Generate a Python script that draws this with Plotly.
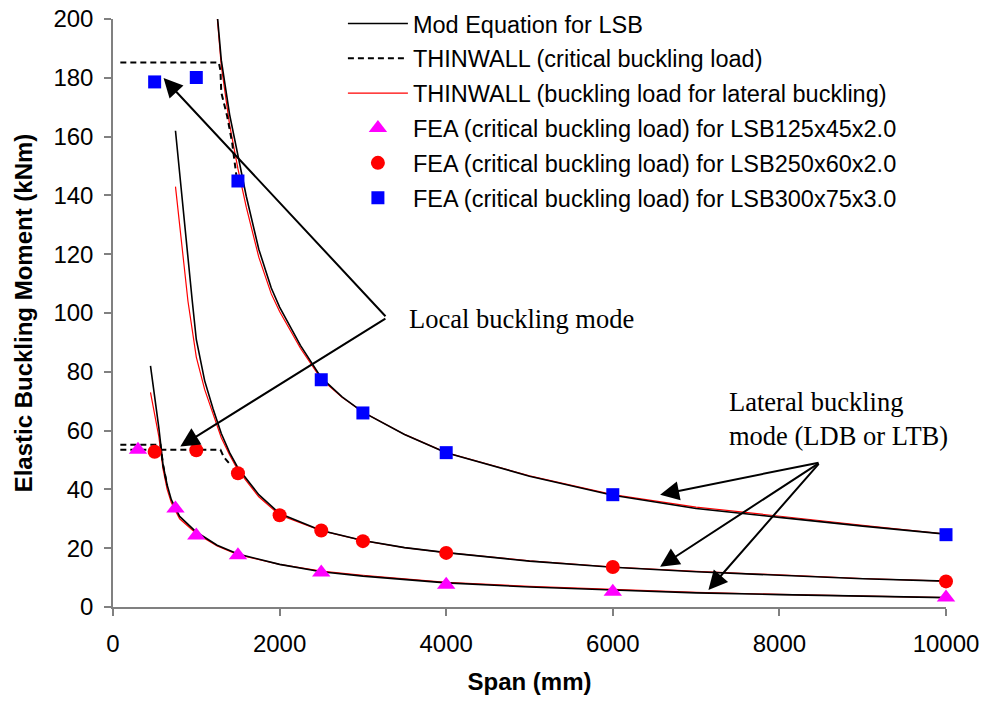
import plotly.graph_objects as go

# ---------------- data ----------------
# Mod Equation for LSB (black solid)
span_mod_125 = [450, 500, 550, 600, 650, 700, 800, 1000, 1250, 1500, 2000, 2500, 3000, 4000, 5000, 6000, 7000, 8000, 9000, 10000]
mod_125 = [82, 72, 61, 48.5, 41.5, 36.5, 30.8, 25.5, 21, 18, 14.5, 12, 10.5, 8.2, 6.8, 5.8, 4.8, 4.2, 3.6, 3.2]

span_mod_250 = [750, 800, 850, 900, 950, 1000, 1100, 1200, 1300, 1400, 1500, 1750, 2000, 2500, 3000, 3500, 4000, 5000, 6000, 7000, 8000, 9000, 10000]
mod_250 = [162, 147, 132, 118, 104.5, 91, 77, 67.5, 59, 52.5, 47.3, 38.2, 31.8, 26, 22.6, 20.2, 18.5, 15.6, 13.5, 12, 10.8, 9.6, 8.8]

span_mod_300 = [1250, 1300, 1400, 1500, 1600, 1750, 1900, 2000, 2250, 2500, 2750, 3000, 3500, 4000, 5000, 6000, 7000, 8000, 9000, 10000]
mod_300 = [202, 186, 167.5, 153.5, 139.7, 121.7, 108.5, 102, 89, 78, 71.5, 66.3, 58.7, 52.5, 44.5, 38, 33.5, 30.5, 27.5, 24.8]

# THINWALL (buckling load for lateral buckling) (red solid)
span_tw_125 = [450, 500, 550, 600, 650, 700, 800, 1000, 1250, 1500, 2000, 2500, 3000, 4000, 5000, 6000, 7000, 8000, 9000, 10000]
tw_125 = [73, 66, 58, 47, 40, 35.5, 30, 25, 20.8, 17.8, 14.5, 12.2, 10.8, 8.4, 7, 6, 5, 4.3, 3.8, 3.2]

span_tw_250 = [750, 800, 850, 900, 950, 1000, 1100, 1200, 1300, 1400, 1500, 1750, 2000, 2500, 3000, 3500, 4000, 5000, 6000, 7000, 8000, 9000, 10000]
tw_250 = [143, 129, 117, 104, 94, 85, 74, 65.5, 57.6, 51.7, 46.5, 37.5, 31.3, 26, 22.6, 20.2, 18.5, 15.7, 13.6, 12.1, 10.9, 9.7, 8.8]

span_tw_300 = [1250, 1300, 1400, 1500, 1600, 1750, 1900, 2000, 2250, 2500, 2750, 3000, 3500, 4000, 5000, 6000, 7000, 8000, 9000, 10000]
tw_300 = [201, 184, 164, 149, 136, 119, 106.5, 100.5, 88, 77.5, 71.3, 66.3, 58.7, 52.5, 44.6, 38.2, 34, 30.8, 27.8, 24.8]

# THINWALL (critical buckling load) (black dashed)
span_cr_125 = [88, 570, 600, 650]
cr_125 = [55.2, 55.2, 48.5, 41.5]
span_cr_250 = [88, 1290, 1330, 1390]
cr_250 = [53.5, 53.5, 51, 49]
span_cr_300 = [88, 1270, 1290, 1300, 1370, 1430, 1480]
cr_300 = [185.2, 185.2, 182.5, 175, 167, 158, 147]

# FEA (critical buckling load)
fea_125_x = [300, 750, 1000, 1500, 2500, 4000, 6000, 10000]
fea_125_y = [53.5, 33.5, 24.3, 17.6, 11.7, 7.6, 5.2, 3.2]
fea_250_x = [500, 1000, 1500, 2000, 2500, 3000, 4000, 6000, 10000]
fea_250_y = [52.8, 53.3, 45.5, 31.2, 26, 22.4, 18.4, 13.6, 8.7]
fea_300_x = [500, 1000, 1500, 2500, 3000, 4000, 6000, 10000]
fea_300_y = [178.6, 180.1, 144.9, 77.3, 66, 52.5, 38.2, 24.6]

x_ticks = [0, 2000, 4000, 6000, 8000, 10000]
y_ticks = [0, 20, 40, 60, 80, 100, 120, 140, 160, 180, 200]

SANS = "Liberation Sans, Arial, sans-serif"
SERIF = "Liberation Serif, Times New Roman, serif"

fig = go.Figure()

# red lateral lines
for i, (sx, sy) in enumerate([(span_tw_125, tw_125), (span_tw_250, tw_250), (span_tw_300, tw_300)]):
    fig.add_trace(go.Scatter(x=sx, y=sy, mode="lines", line=dict(color="#ff0000", width=1.2),
                             name="THINWALL (buckling load for lateral buckling)", legendgroup="c",
                             legendrank=3, showlegend=(i == 0)))
# black Mod Equation
for i, (sx, sy) in enumerate([(span_mod_125, mod_125), (span_mod_250, mod_250), (span_mod_300, mod_300)]):
    fig.add_trace(go.Scatter(x=sx, y=sy, mode="lines", line=dict(color="#000000", width=1.6),
                             name="Mod Equation for LSB", legendgroup="a",
                             legendrank=1, showlegend=(i == 0)))
# dashed THINWALL critical
for i, (sx, sy) in enumerate([(span_cr_125, cr_125), (span_cr_250, cr_250), (span_cr_300, cr_300)]):
    fig.add_trace(go.Scatter(x=sx, y=sy, mode="lines", line=dict(color="#000000", width=2, dash="6px,4px"),
                             name="THINWALL (critical buckling load)", legendgroup="b",
                             legendrank=2, showlegend=(i == 0)))

fig.add_trace(go.Scatter(x=fea_125_x, y=fea_125_y, mode="markers", cliponaxis=False,
                         marker=dict(symbol="triangle-up", size=16, color="#ff00ff"),
                         name="FEA (critical buckling load) for LSB125x45x2.0", legendgroup="d", legendrank=4))
fig.add_trace(go.Scatter(x=fea_250_x, y=fea_250_y, mode="markers", cliponaxis=False,
                         marker=dict(symbol="circle", size=14, color="#ff0000"),
                         name="FEA (critical buckling load) for LSB250x60x2.0", legendgroup="e", legendrank=5))
fig.add_trace(go.Scatter(x=fea_300_x, y=fea_300_y, mode="markers", cliponaxis=False,
                         marker=dict(symbol="square", size=13, color="#0000ff"),
                         name="FEA (critical buckling load) for LSB300x75x3.0", legendgroup="f", legendrank=6))

# arrows
arrow_common = dict(showarrow=True, arrowhead=2, arrowsize=1.9, arrowwidth=2, arrowcolor="#000000",
                    axref="x", ayref="y", text="")
local_tail = (3288, 98.4)
for tip in [(607, 179.9), (808, 54.6)]:
    fig.add_annotation(x=tip[0], y=tip[1], ax=local_tail[0], ay=local_tail[1], **arrow_common)
lat_tail = (8488, 49.2)
for tip in [(6568, 38.2), (6568, 13.7), (7148, 5.8)]:
    fig.add_annotation(x=tip[0], y=tip[1], ax=lat_tail[0], ay=lat_tail[1], **arrow_common)

fig.add_annotation(x=3532, y=97.8, text="Local buckling mode", showarrow=False, xanchor="left",
                   yanchor="middle", font=dict(family=SERIF, size=26.5, color="#000000"))
fig.add_annotation(x=7372, y=64, text="Lateral buckling<br>mode (LDB or LTB)", showarrow=False,
                   xanchor="left", yanchor="middle", align="left",
                   font=dict(family=SERIF, size=26.5, color="#000000"))

fig.update_layout(
    width=987, height=702,
    margin=dict(l=113, r=41, t=19, b=95, autoexpand=False),
    paper_bgcolor="white", plot_bgcolor="white",
    font=dict(family=SANS, size=24, color="#000000"),
    showlegend=True,
    legend=dict(x=0.276, y=1.0295, xanchor="left", yanchor="top", bgcolor="rgba(0,0,0,0)",
                font=dict(family=SANS, size=23.5, color="#000000"), itemwidth=60,
                traceorder="grouped", tracegroupgap=1.3),
    xaxis=dict(range=[0, 10000], tickvals=x_ticks, ticktext=[str(v) for v in x_ticks],
               showgrid=False, zeroline=False, showline=True, linecolor="#808080", linewidth=1.5,
               ticks="outside", ticklen=7, tickcolor="#808080", tickwidth=1.5, ticklabelstandoff=7,
               title=dict(text="<b>Span (mm)</b>", font=dict(family=SANS, size=24), standoff=18)),
    yaxis=dict(range=[0, 200], tickvals=y_ticks, ticktext=[str(v) for v in y_ticks],
               showgrid=False, zeroline=False, showline=True, linecolor="#808080", linewidth=1.5,
               ticks="outside", ticklen=7, tickcolor="#808080", tickwidth=1.5, ticklabelstandoff=6,
               title=dict(text="<b>Elastic Buckling Moment (kNm)</b>", font=dict(family=SANS, size=24), standoff=14)),
)

fig.write_html("out.html")
